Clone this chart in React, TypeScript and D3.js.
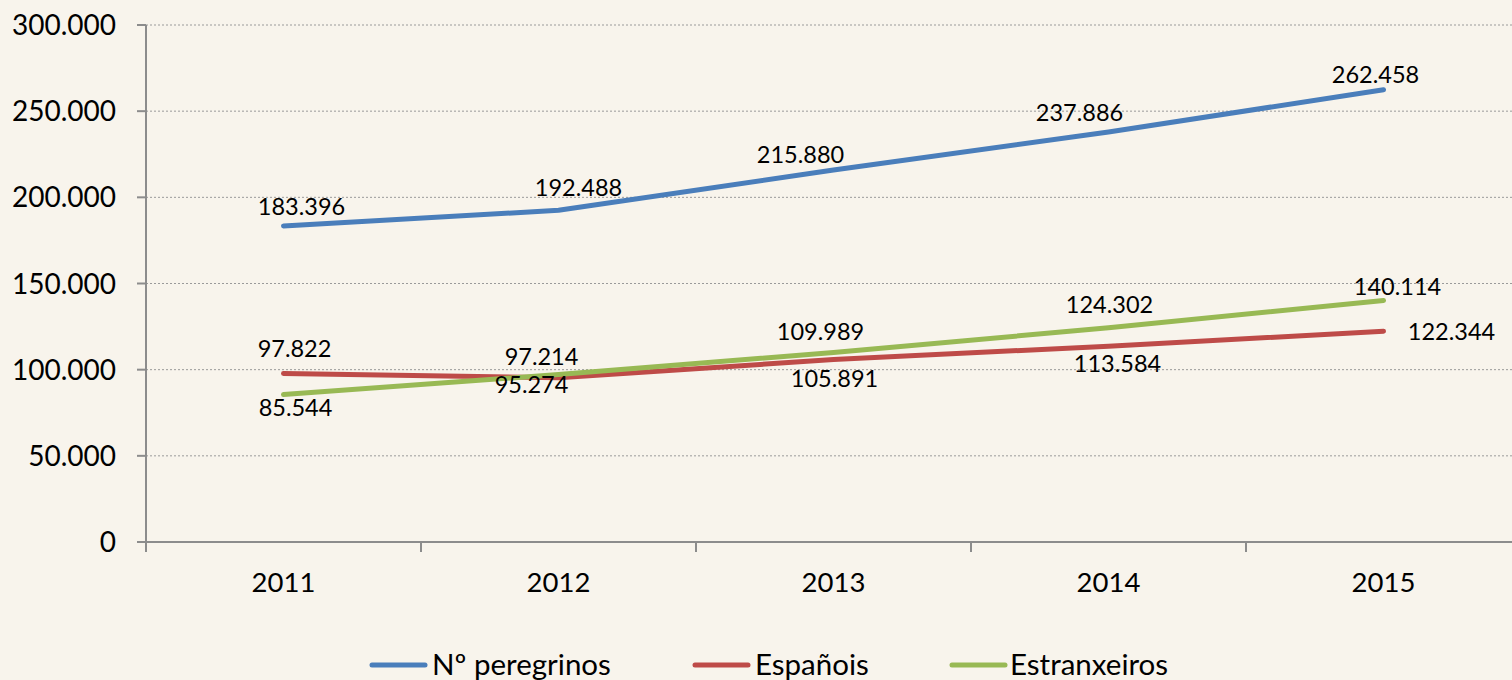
import React from 'react';
import * as d3 from 'd3';

const years = ['2011', '2012', '2013', '2014', '2015'];
const peregrinos = [183396, 192488, 215880, 237886, 262458];
const espanois = [97822, 95274, 105891, 113584, 122344];
const estranxeiros = [85544, 97214, 109989, 124302, 140114];
const yTicks = [0, 50000, 100000, 150000, 200000, 250000, 300000];

// label placement offsets (px) relative to each point, per series
const pereOffsets = [[18, -19], [20, -23], [-33, -15], [-29, -20], [-8, -15]];
const espOffsets = [[11, -25], [-27, 7], [1, 19], [9, 17], [68, 0]];
const estOffsets = [[12, 13], [-17, -18], [-13, -21], [1, -23], [14, -14]];

const series = [
  { name: 'Nº peregrinos', values: peregrinos, color: '#4a7ebb', offsets: pereOffsets },
  { name: 'Españois', values: espanois, color: '#be4b48', offsets: espOffsets },
  { name: 'Estranxeiros', values: estranxeiros, color: '#98b954', offsets: estOffsets },
];

const W = 1512;
const H = 680;
const FONT = 'Lato, "Noto Sans", sans-serif';

const fmt = (v: number) => d3.format(',')(v).replace(/,/g, '.');

export default function App() {
  const x = d3.scaleBand<string>().domain(years).range([146, 1521]);
  const y = d3.scaleLinear().domain([0, 300000]).range([542, 25]);
  const cx = (yr: string) => (x(yr) as number) + x.bandwidth() / 2;

  const line = d3
    .line<number>()
    .x((_, i) => cx(years[i]))
    .y((d) => y(d));

  const legendItems = [
    { x: 372, textX: 432 },
    { x: 695, textX: 755 },
    { x: 952, textX: 1010 },
  ];

  return (
    <svg
      width={W}
      height={H}
      style={{ position: 'absolute', left: 0, top: 0, background: '#f8f4ec' }}
      fontFamily={FONT}
    >
      <rect width={W} height={H} fill="#f8f4ec" />

      {/* gridlines */}
      {yTicks.slice(1).map((t) => (
        <line
          key={t}
          x1={146}
          x2={W}
          y1={y(t)}
          y2={y(t)}
          stroke="#9a9a9a"
          strokeWidth={1}
          strokeDasharray="2,2"
        />
      ))}

      {/* y axis */}
      <line x1={146} x2={146} y1={y(300000)} y2={y(0)} stroke="#8c8c8c" strokeWidth={2} />
      {yTicks.map((t) => (
        <g key={t}>
          <line x1={137} x2={146} y1={y(t)} y2={y(t)} stroke="#8c8c8c" strokeWidth={2} />
          <text x={116} y={y(t)} dy="0.36em" textAnchor="end" fontSize={28} fill="#000">
            {t === 0 ? '0' : fmt(t)}
          </text>
        </g>
      ))}

      {/* x axis */}
      <line x1={137} x2={W} y1={y(0)} y2={y(0)} stroke="#8c8c8c" strokeWidth={2} />
      {years.map((yr) => (
        <g key={yr}>
          <line
            x1={x(yr) as number}
            x2={x(yr) as number}
            y1={y(0)}
            y2={y(0) + 10}
            stroke="#8c8c8c"
            strokeWidth={2}
          />
          <text x={cx(yr)} y={592} textAnchor="middle" fontSize={27.5} fill="#000">
            {yr}
          </text>
        </g>
      ))}

      {/* lines */}
      {series.map((s) => (
        <path
          key={s.name}
          d={line(s.values) as string}
          fill="none"
          stroke={s.color}
          strokeWidth={5}
          strokeLinecap="round"
          strokeLinejoin="round"
        />
      ))}

      {/* data labels */}
      {series.map((s) =>
        s.values.map((v, i) => (
          <text
            key={s.name + i}
            x={cx(years[i]) + s.offsets[i][0]}
            y={y(v) + s.offsets[i][1]}
            dy="0.36em"
            textAnchor="middle"
            fontSize={23.5}
            fill="#000"
          >
            {fmt(v)}
          </text>
        ))
      )}

      {/* legend */}
      {series.map((s, i) => (
        <g key={s.name}>
          <line
            x1={legendItems[i].x}
            x2={legendItems[i].x + 53}
            y1={665}
            y2={665}
            stroke={s.color}
            strokeWidth={5}
            strokeLinecap="round"
          />
          <text x={legendItems[i].textX} y={675} fontSize={29.5} fill="#000">
            {s.name}
          </text>
        </g>
      ))}
    </svg>
  );
}
